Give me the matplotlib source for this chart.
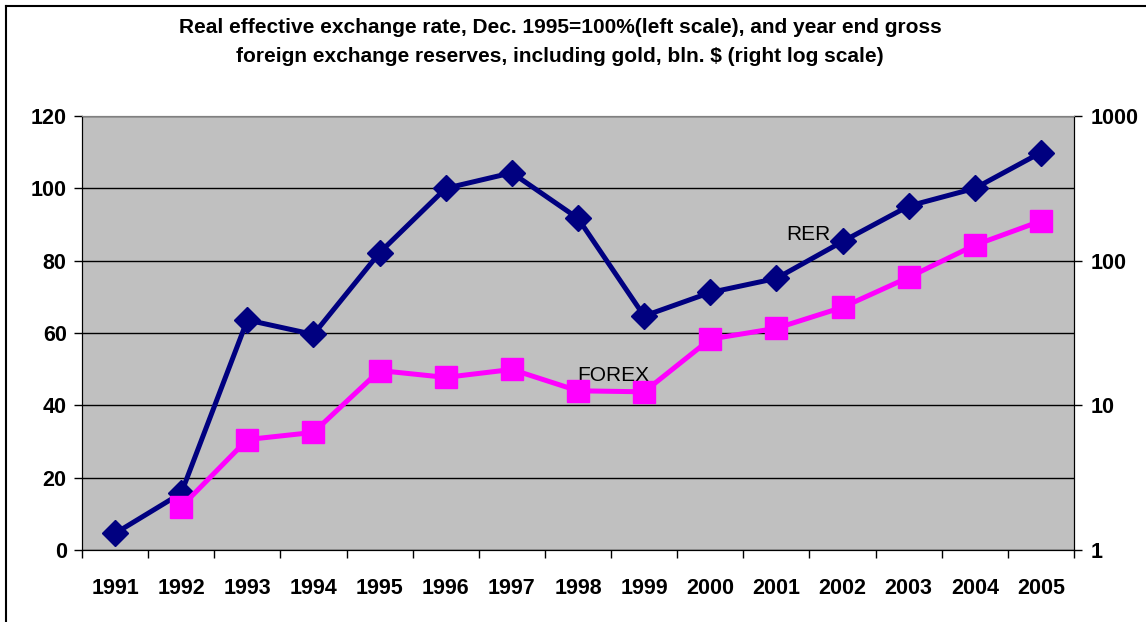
import matplotlib
matplotlib.use("Agg")
import matplotlib.pyplot as plt
from matplotlib.lines import Line2D
from matplotlib.ticker import NullLocator

years = ["1991", "1992", "1993", "1994", "1995", "1996", "1997", "1998",
         "1999", "2000", "2001", "2002", "2003", "2004", "2005"]
rer = [4.6, 15.7, 63.6, 59.6, 82.2, 100.0, 104.3, 91.7,
       64.7, 71.2, 75.1, 85.3, 95.1, 100.0, 109.9]
forex_years = years[1:]
forex = [1.99, 5.8, 6.5, 17.4, 15.6, 17.7, 12.6, 12.4,
         28.7, 34.1, 47.6, 76.7, 128.0, 188.0]

title = ("Real effective exchange rate, Dec. 1995=100%(left scale), and year end gross\n"
         "foreign exchange reserves, including gold, bln. $ (right log scale)")

plt.rcParams['font.family'] = ['Liberation Sans', 'DejaVu Sans']

fig = plt.figure(figsize=(11.46, 6.22), dpi=100)
ax = fig.add_axes([82/1146, 72/622, 992/1146, 434/622])
ax2 = ax.twinx()

ax.set_facecolor('#C0C0C0')
ax2.patch.set_visible(False)

x = list(range(len(years)))
ax.plot(x, rer, color='#000080', lw=3.6, marker='D', ms=13, zorder=3, clip_on=False)
xf = [years.index(y) for y in forex_years]
ax2.plot(xf, forex, color='#FF00FF', lw=3.6, marker='s', ms=16, zorder=3, clip_on=False)

ax.set_xlim(-0.5, len(years) - 0.5)
ax.set_ylim(0, 120)
ax.set_yticks(range(0, 121, 20))
ax.yaxis.grid(True, color='black', lw=1)
ax.set_axisbelow(True)
# ticks between categories, labels at category centres
ax.set_xticks([i - 0.5 for i in range(len(years) + 1)])
ax.set_xticklabels([])
ax.set_xticks(x, minor=True)
ax.set_xticklabels(years, minor=True)
ax.tick_params(axis='x', which='major', length=6, width=1, direction='out')
ax.tick_params(axis='x', which='minor', length=0, pad=20, labelsize=15.5)
ax.tick_params(axis='y', length=6, width=1, labelsize=15.5, pad=5)
for lab in ax.get_xticklabels(minor=True) + ax.get_yticklabels():
    lab.set_fontweight('bold')

ax2.set_yscale('log')
ax2.set_ylim(1, 1000)
ax2.set_yticks([1, 10, 100, 1000])
ax2.set_yticklabels(['1', '10', '100', '1000'])
ax2.yaxis.set_minor_locator(NullLocator())
ax2.tick_params(axis='y', length=6, width=1, labelsize=15.5, pad=6)
for lab in ax2.get_yticklabels():
    lab.set_fontweight('bold')

for a in (ax, ax2):
    a.spines['top'].set_color('#808080')
    for s in ('left', 'right', 'bottom'):
        a.spines[s].set_color('black')

ax.text(10.49, 87.2, 'RER', fontsize=15, ha='center', va='center', zorder=5)
ax.text(7.53, 48.2, 'FOREX', fontsize=15, ha='center', va='center', zorder=5)

fig.text(560/1146, 1 - 42/622, title, fontsize=15, fontweight='bold',
         ha='center', va='center', linespacing=1.7)

fig.add_artist(Line2D([6/1146, 1], [1 - 6/622] * 2, color='black', lw=1.5,
                      transform=fig.transFigure))
fig.add_artist(Line2D([6/1146] * 2, [0, 1 - 6/622], color='black', lw=1.5,
                      transform=fig.transFigure))

fig.savefig('out.png', dpi=100)
